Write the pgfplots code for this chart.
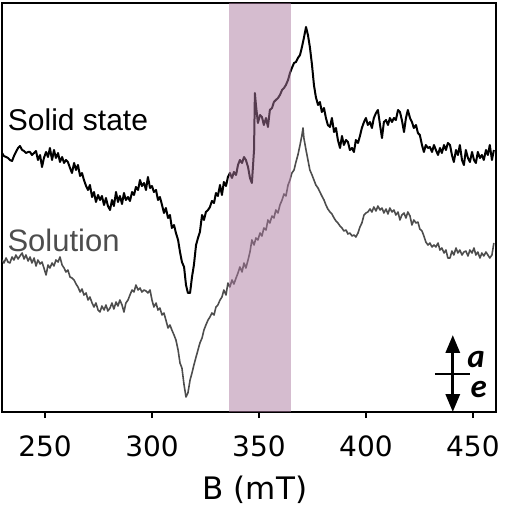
\documentclass[border=0pt]{standalone}
\usepackage{pgfplots}
\pgfplotsset{compat=1.18}
\usepackage{fontspec}
\setmainfont{DejaVu Sans}
\newfontfamily\labelfont{Liberation Sans}
\newfontfamily\signfont{Carlito}
\usetikzlibrary{arrows.meta}
\definecolor{bandcol}{HTML}{AB799F}
\definecolor{solgray}{HTML}{4D4D4D}

% EPR spectra: field B (mT) vs. signal (arbitrary units, offset)
\pgfplotstableread{
B y
229.9 259
230.8 256
231.8 255
232.7 254
233.6 252
234.6 251
235.5 256
236.4 260
237.4 264
238.3 266
239.3 262
240.2 261
241.1 259
242.1 260
243.0 260
243.9 257
244.9 259
245.8 261
246.7 252
247.7 257
248.6 245
249.5 254
250.5 260
251.4 255
252.3 264
253.3 252
254.2 262
255.1 254
256.1 259
257.0 250
258.0 255
258.9 249
259.8 252
260.7 250
261.7 244
262.6 239
263.6 249
264.5 242
265.4 247
266.4 236
267.3 239
268.2 232
269.2 226
270.1 222
271.0 227
272.0 215
272.9 220
273.8 210
274.8 217
275.7 212
276.6 216
277.6 207
278.5 214
279.4 206
280.4 202
281.3 212
282.2 206
283.2 220
284.1 210
285.0 216
286.0 208
286.9 219
287.8 212
288.8 215
289.7 211
290.7 220
291.6 217
292.5 225
293.5 222
294.4 232
295.3 226
296.3 229
297.2 222
298.1 235
299.1 224
300.0 226
300.9 220
301.9 222
302.8 212
303.7 215
304.7 207
305.6 199
306.5 204
307.5 194
308.4 197
309.3 184
310.3 187
311.2 179
312.2 172
313.1 160
314.0 150
315.0 145
315.9 127
316.8 119
317.8 119
318.7 135
319.6 147
320.6 167
321.5 174
322.4 180
323.4 197
324.3 192
325.2 200
326.2 202
327.1 205
328.0 211
329.0 209
329.9 219
330.8 216
331.8 227
332.7 217
333.6 230
334.6 226
335.5 235
336.4 239
337.4 234
338.3 240
339.3 237
340.2 247
341.1 252
342.1 249
343.0 255
343.9 252
344.9 245
345.8 234
346.7 229
347.7 262
348.1 319
348.6 307
349.5 289
350.5 297
351.4 295
352.3 287
353.3 294
354.2 285
355.1 302
356.1 304
357.0 310
357.9 312
358.9 314
359.8 317
360.8 322
361.7 324
362.6 327
363.6 332
364.5 339
365.4 344
366.4 349
367.3 350
368.2 354
369.2 357
370.1 365
371.0 374
372.0 385
372.9 377
373.8 365
374.8 347
375.7 327
376.6 315
377.6 307
378.5 310
379.4 300
380.4 304
381.3 294
382.2 287
383.2 285
384.1 294
385.1 280
386.0 284
386.9 272
387.9 264
388.8 276
389.7 267
390.7 272
391.6 270
392.5 262
393.5 264
394.4 260
395.3 272
396.3 269
397.2 276
398.1 284
399.1 290
400.0 294
400.9 287
401.9 290
402.8 284
403.7 294
404.7 299
405.6 302
406.6 287
407.5 274
408.4 290
409.4 292
410.3 287
411.2 294
412.2 290
413.1 294
414.0 292
415.0 302
415.9 300
416.8 292
417.8 280
418.7 294
419.6 302
420.6 294
421.5 290
422.4 284
423.4 287
424.3 279
425.2 277
426.2 267
427.1 260
428.0 267
429.0 264
429.9 265
430.9 260
431.8 267
432.7 262
433.7 257
434.6 264
435.5 259
436.5 267
437.4 262
438.3 269
439.3 267
440.2 257
441.1 250
442.1 262
443.0 257
443.9 267
444.9 252
445.8 247
446.7 262
447.7 254
448.6 250
449.6 260
450.5 252
451.4 249
452.3 260
453.3 254
454.2 257
455.1 252
456.1 262
457.0 257
457.9 267
458.9 252
459.8 262
}\solidstate

\pgfplotstableread{
B y
229.9 152
230.8 149
231.8 154
232.7 150
233.6 149
234.6 155
235.5 152
236.4 157
237.4 153
238.3 156
239.3 159
240.2 153
241.1 157
242.1 151
243.0 155
243.9 149
244.9 154
245.8 146
246.7 152
247.7 148
248.6 150
249.5 144
250.5 137
251.4 147
252.3 144
253.3 149
254.2 146
255.1 152
256.1 150
257.0 155
258.0 147
258.9 144
259.8 140
260.7 142
261.7 135
262.6 134
263.6 132
264.5 128
265.4 125
266.4 120
267.3 123
268.2 117
269.2 119
270.1 112
271.0 115
272.0 109
272.9 105
273.8 109
274.8 102
275.7 100
276.6 106
277.6 102
278.5 107
279.4 101
280.4 104
281.3 109
282.2 103
283.2 110
284.1 106
285.0 112
286.0 107
286.9 100
287.8 109
288.8 112
289.7 117
290.7 122
291.6 120
292.5 127
293.5 122
294.4 124
295.3 120
296.3 122
297.2 121
298.1 119
299.1 122
300.0 112
300.9 105
301.9 109
302.8 102
303.7 104
304.7 97
305.6 99
306.5 92
307.5 84
308.4 87
309.3 82
310.3 77
311.2 72
312.2 62
313.1 49
314.0 44
315.0 27
315.9 15
316.8 19
317.8 32
318.7 39
319.6 47
320.6 55
321.5 62
322.4 69
323.4 74
324.3 82
325.2 87
326.2 92
327.1 95
328.0 99
329.0 97
329.9 105
330.8 107
331.8 112
332.7 115
333.6 122
334.6 117
335.5 129
336.4 125
337.4 132
338.3 128
339.3 134
340.2 139
341.1 145
342.1 140
343.0 149
343.9 144
344.9 152
345.8 160
346.7 172
347.7 167
348.6 174
349.5 172
350.5 179
351.4 176
352.3 184
353.3 182
354.2 192
355.1 189
356.1 196
357.0 194
357.9 202
358.9 199
359.8 207
360.8 212
361.7 218
362.6 216
363.6 227
364.5 232
365.4 239
366.4 242
367.3 250
368.2 257
369.2 267
370.1 277
370.6 284
371.0 274
372.0 262
372.9 252
373.8 242
374.8 237
375.7 232
376.6 227
377.6 224
378.5 220
379.4 216
380.4 212
381.3 207
382.2 203
383.2 200
384.1 198
385.1 194
386.0 191
386.9 189
387.9 186
388.8 184
389.7 181
390.7 182
391.6 178
392.5 179
393.5 176
394.4 177
395.3 175
396.3 179
397.2 185
398.1 189
399.1 197
400.0 199
400.9 200
401.9 203
402.8 200
403.7 205
404.7 201
405.6 206
406.6 202
407.5 204
408.4 199
409.4 203
410.3 198
411.2 204
412.2 200
413.1 202
414.0 197
415.0 200
415.9 192
416.8 197
417.8 199
418.7 194
419.6 200
420.6 196
421.5 187
422.4 192
423.4 189
424.3 190
425.2 183
426.2 181
427.1 176
428.0 170
429.0 167
429.9 169
430.9 165
431.8 167
432.7 165
433.7 169
434.6 162
435.5 164
436.5 159
437.4 162
438.3 154
439.3 154
440.2 161
441.1 157
442.1 164
443.0 159
443.9 162
444.9 157
445.8 160
446.7 161
447.7 156
448.6 162
449.6 159
450.5 164
451.4 157
452.3 160
453.3 154
454.2 159
455.1 156
456.1 160
457.0 157
457.9 154
458.9 157
459.8 169
}\solution

\begin{document}
\begin{tikzpicture}
\begin{axis}[
  scale only axis,
  width=494pt, height=409pt,
  xmin=229.9, xmax=460.8,
  ymin=0, ymax=409,
  ytick=\empty,
  xtick={250,300,350,400,450},
  xtick pos=bottom,
  tick align=outside,
  major tick length=6pt,
  axis line style={line width=1.5pt},
  every tick/.style={black, line width=1.5pt},
  /pgf/number format/assume math mode=true,
  every tick label/.append style={font=\fontsize{28}{30}\selectfont},
  xticklabel style={anchor=base, yshift=-38pt},
  xlabel={B (mT)},
  xlabel style={font=\fontsize{31}{33}\selectfont,
    at={(axis description cs:0.512,0)}, anchor=base, yshift=-87pt},
  clip mode=individual,
]
\addplot[black, line width=2pt, line join=round] table[x=B, y=y] {\solidstate};
\addplot[solgray, line width=1.6pt, line join=round] table[x=B, y=y] {\solution};

% highlighted field window
\addplot[draw=none, fill=bandcol, fill opacity=0.5]
  coordinates {(336.0,409) (364.95,409)} \closedcycle;

\node[anchor=base west, inner sep=0pt, font=\labelfont\fontsize{30}{32}\selectfont]
  at (axis cs:232.6,281) {Solid state};
\node[anchor=base west, inner sep=0pt, text=solgray, font=\labelfont\fontsize{31}{33}\selectfont]
  at (axis cs:232.4,160) {Solution};

% absorption / emission sign key
\draw[line width=3.2pt, {Triangle[width=14pt,length=18pt]}-{Triangle[width=14pt,length=18pt]}]
  (axis cs:440.6,77) -- (axis cs:440.6,0);
\draw[line width=2.8pt] (axis cs:432.2,38) -- (axis cs:448.6,38);
\tikzset{signkey/.style={anchor=base west, inner sep=0pt, text height=1ex, text depth=0pt,
  font=\signfont\bfseries\itshape\fontsize{33}{35}\selectfont}}
\node[signkey] at (axis cs:447.3,45) {a};
\node[signkey] at (axis cs:448.8,15) {e};
\end{axis}
\pgfresetboundingbox
\path[use as bounding box] (-2pt,-96pt) rectangle (502pt,412pt);
\end{tikzpicture}
\end{document}
